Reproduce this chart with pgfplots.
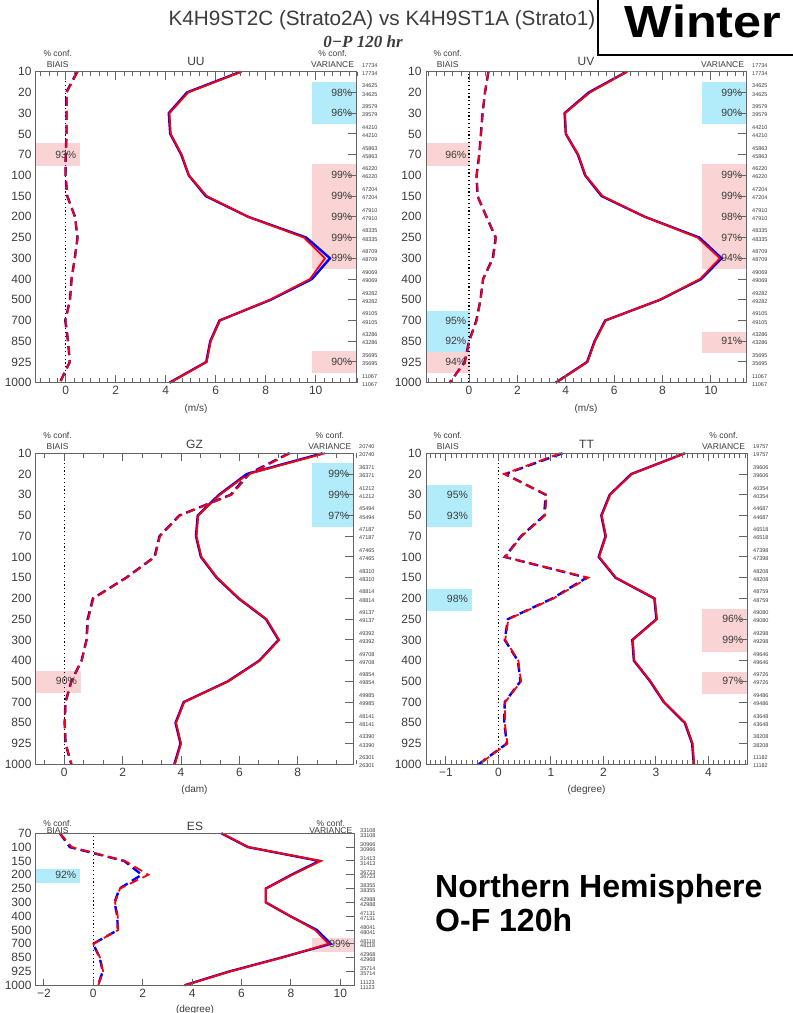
\documentclass[border=0pt]{standalone}
\usepackage{pgfplots}
\pgfplotsset{compat=1.18}
\usepackage{pgfplotstable}
\usepackage{fontspec}
\setmainfont{Liberation Sans}
\newfontfamily\titleserif{Liberation Serif}

\definecolor{pinkc}{RGB}{250,212,212}
\definecolor{cyanc}{RGB}{178,236,250}
\definecolor{axgray}{RGB}{100,100,100}
\definecolor{txtgray}{RGB}{60,60,60}

\pgfplotsset{
  panel/.style={
    scale only axis, anchor=south west, clip=false, axis on top,
    xtick pos=both,
    ytick pos=right, yticklabel pos=left,
    tick align=inside,
    major tick length=8pt, minor tick length=4.5pt,
    axis line style={axgray, line width=1pt},
    tick style={draw=none},
    ticklabel style={font=\fontsize{12}{12}\selectfont, text=txtgray},
    yticklabel style={xshift=-1pt},
  },
  stdb/.style={blue, line width=2.4pt},
  stdr/.style={red, line width=1.8pt},
  biasb/.style={blue, line width=2.4pt, dash pattern=on 9pt off 5pt},
  biasr/.style={red, line width=1.8pt, dash pattern=on 9pt off 5pt},
  zeroline/.style={black, line width=1.3pt, dash pattern=on 1.2pt off 2.6pt},
}
\tikzset{
  mtick/.style={axgray, line width=1pt},
  cntlab/.style={font=\fontsize{5.5}{5.5}\selectfont, text=txtgray, anchor=west, inner sep=0pt},
  pctlab/.style={font=\fontsize{10.5}{10.5}\selectfont, text=txtgray, anchor=east, inner sep=0pt},
  hsmall/.style={font=\fontsize{8.5}{8.5}\selectfont, text=txtgray, inner sep=0pt},
  htitle/.style={font=\fontsize{12}{12}\selectfont, text=txtgray, inner sep=0pt},
  hunit/.style={font=\fontsize{10}{10}\selectfont, text=txtgray, inner sep=0pt},
}
% levels are plotted downward: level index k sits at y = -k
% #1 xmax, #2 level index, #3 count
\newcommand{\cnt}[3]{%
  \node[cntlab] at (axis cs:#1,-#2) [xshift=6pt,yshift=6.5pt] {#3};
  \node[cntlab] at (axis cs:#1,-#2) [xshift=6pt,yshift=-1.7pt] {#3};}
\newcommand{\cnte}[3]{%
  \node[cntlab] at (axis cs:#1,-#2) [xshift=6pt,yshift=2.6pt] {#3};
  \node[cntlab] at (axis cs:#1,-#2) [xshift=6pt,yshift=-2.2pt] {#3};}
\newcommand{\pct}[3]{\node[pctlab] at (axis cs:#1,-#2) [xshift=-3.5pt] {#3\%};}
\newcommand{\shbox}[5]{\fill[#1] (axis cs:#2,-#4) rectangle (axis cs:#3,-#5);}
% #1 title, #2 offset high, #3 offset low, #4 title offset
\newcommand{\headers}[4]{%
  \node[hsmall] at (axis description cs:0.068,1) [yshift=#2] {\% conf.};
  \node[hsmall] at (axis description cs:0.068,1) [yshift=#3] {BIAIS};
  \node[htitle] at (axis description cs:0.5,1) [yshift=#4] {#1};
  \node[hsmall] at (axis description cs:0.927,1) [yshift=#2] {\% conf.};
  \node[hsmall] at (axis description cs:0.927,1) [yshift=#3] {VARIANCE};}

\begin{document}

% lev: level index ; vr/vb: variance-side (solid) red/blue ; br/bb: bias (dashed) red/blue
\pgfplotstableread{
lev vr vb br bb
0 7.04 7.00 0.48 0.46
1 4.90 4.85 0.04 0.02
2 4.15 4.12 0.04 0.03
3 4.20 4.18 0.04 0.03
4 4.64 4.62 0.00 0.00
5 4.93 4.92 0.00 -0.01
6 5.64 5.60 0.07 0.06
7 7.30 7.30 0.37 0.37
8 9.53 9.62 0.48 0.47
9 10.37 10.57 0.37 0.36
10 9.77 9.85 0.24 0.23
11 8.17 8.20 0.17 0.17
12 6.17 6.15 0.00 -0.02
13 5.80 5.78 0.10 0.09
14 5.64 5.62 0.17 0.16
15 4.17 4.15 -0.23 -0.24
}\uutab

\pgfplotstableread{
lev vr vb br bb
0 6.54 6.52 0.80 0.80
1 5.00 4.95 0.66 0.66
2 3.97 3.95 0.56 0.56
3 4.01 4.00 0.50 0.49
4 4.52 4.50 0.43 0.42
5 4.82 4.80 0.32 0.31
6 5.52 5.48 0.36 0.35
7 7.27 7.27 0.73 0.72
8 9.45 9.52 1.12 1.10
9 10.37 10.44 1.00 0.98
10 9.55 9.60 0.59 0.58
11 7.89 7.90 0.48 0.47
12 5.65 5.63 0.32 0.30
13 5.21 5.19 0.01 0.00
14 4.90 4.88 -0.17 -0.18
15 3.60 3.58 -0.79 -0.80
}\uvtab

\pgfplotstableread{
lev vr vb br bb
0 8.93 8.85 7.73 7.70
1 6.30 6.25 6.35 6.30
2 5.33 5.30 5.73 5.70
3 4.59 4.57 3.96 3.94
4 4.53 4.51 3.28 3.26
5 4.70 4.68 3.11 3.09
6 5.24 5.22 2.14 2.12
7 5.99 5.97 1.00 0.98
8 6.93 6.91 0.82 0.80
9 7.36 7.34 0.77 0.76
10 6.70 6.68 0.60 0.59
11 5.62 5.60 0.25 0.24
12 4.11 4.09 0.05 0.04
13 3.83 3.81 0.02 0.01
14 4.00 3.98 0.05 0.04
15 3.79 3.77 0.25 0.24
}\gztab

\pgfplotstableread{
lev vr vb br bb
0 3.56 3.55 1.18 1.22
1 2.54 2.53 0.11 0.13
2 2.13 2.12 0.92 0.90
3 1.97 1.96 0.89 0.87
4 2.05 2.04 0.44 0.43
5 1.92 1.91 0.13 0.12
6 2.24 2.23 1.71 1.68
7 2.98 2.97 1.05 1.03
8 3.02 3.01 0.19 0.18
9 2.56 2.55 0.13 0.12
10 2.59 2.58 0.38 0.37
11 2.90 2.89 0.43 0.42
12 3.16 3.15 0.13 0.12
13 3.56 3.55 0.12 0.11
14 3.70 3.69 0.17 0.16
15 3.73 3.72 -0.37 -0.38
}\tttab

\pgfplotstableread{
lev vr vb br bb
0 5.20 5.18 -1.35 -1.35
1 6.28 6.26 -0.87 -0.95
2 9.21 9.15 1.28 1.25
3 8.06 8.02 2.23 1.96
4 6.99 6.98 1.08 1.06
5 6.99 6.98 0.88 0.86
6 7.99 7.97 0.99 0.97
7 8.98 9.05 1.01 0.99
8 9.52 9.61 0.00 -0.01
9 7.63 7.60 0.27 0.26
10 5.53 5.50 0.40 0.38
11 3.71 3.69 0.20 0.19
}\estab

\begin{tikzpicture}
\useasboundingbox (0,0) rectangle (793pt,1013pt);

% ---------------- UU ----------------
\begin{axis}[panel, at={(36pt,630.3pt)}, width=320pt, height=311pt,
  xmin=-1.19, xmax=11.61, ymin=-15, ymax=0,
  ytick={-15,...,0}, yticklabels={1000,925,850,700,500,400,300,250,200,150,100,70,50,30,20,10},
  xtick={0,2,...,10}, xticklabels={0,2,4,6,8,10}]
\shbox{pinkc}{-1.19}{0.57}{3.46}{4.54}
\shbox{cyanc}{9.85}{11.61}{0.48}{2.52}
\shbox{pinkc}{9.85}{11.61}{4.46}{9.54}
\shbox{pinkc}{9.85}{11.61}{13.48}{14.52}
\addplot[zeroline] coordinates {(0,-15) (0,0)};
\addplot[stdb] table[x=vb,y expr=-\thisrow{lev}]{\uutab};
\addplot[stdr] table[x=vr,y expr=-\thisrow{lev}]{\uutab};
\addplot[biasb] table[x=bb,y expr=-\thisrow{lev}]{\uutab};
\addplot[biasr] table[x=br,y expr=-\thisrow{lev}]{\uutab};
\pct{0.57}{4}{93}
\pct{11.61}{1}{98}\pct{11.61}{2}{96}
\pct{11.61}{5}{99}\pct{11.61}{6}{99}\pct{11.61}{7}{99}\pct{11.61}{8}{99}\pct{11.61}{9}{99}
\pct{11.61}{14}{90}
\pgfplotsinvokeforeach{0,2,...,10}{\draw[mtick] (axis cs:#1,-15) -- ++(0pt,8pt); \draw[mtick] (axis cs:#1,0) -- ++(0pt,-8pt);}
\pgfplotsinvokeforeach{-1,-0.6667,...,11.5}{\draw[mtick] (axis cs:#1,-15) -- ++(0pt,4.5pt); \draw[mtick] (axis cs:#1,0) -- ++(0pt,-4.5pt);}
\pgfplotsinvokeforeach{0,...,15}{\draw[mtick] (axis cs:11.61,-#1) -- ++(-8pt,0pt);}
\cnt{11.61}{0}{17734}\cnt{11.61}{1}{34625}\cnt{11.61}{2}{39579}\cnt{11.61}{3}{44210}
\cnt{11.61}{4}{45863}\cnt{11.61}{5}{46220}\cnt{11.61}{6}{47204}\cnt{11.61}{7}{47910}
\cnt{11.61}{8}{48335}\cnt{11.61}{9}{48709}\cnt{11.61}{10}{49069}\cnt{11.61}{11}{49282}
\cnt{11.61}{12}{49105}\cnt{11.61}{13}{43286}\cnt{11.61}{14}{35695}\cnt{11.61}{15}{11067}
\headers{UU}{18.5pt}{7.5pt}{10pt}
\node[hunit] at (axis description cs:0.5,0) [yshift=-26pt] {(m/s)};
\end{axis}

% ---------------- UV ----------------
\begin{axis}[panel, at={(426pt,630.3pt)}, width=320pt, height=311pt,
  xmin=-1.78, xmax=11.45, ymin=-15, ymax=0,
  ytick={-15,...,0}, yticklabels={1000,925,850,700,500,400,300,250,200,150,100,70,50,30,20,10},
  xtick={0,2,...,10}, xticklabels={0,2,4,6,8,10}]
\shbox{pinkc}{-1.78}{0.04}{3.46}{4.54}
\shbox{cyanc}{9.63}{11.45}{0.48}{2.52}
\shbox{pinkc}{9.63}{11.45}{4.46}{9.54}
\shbox{cyanc}{-1.78}{0.04}{11.54}{13.5}
\shbox{pinkc}{-1.78}{0.04}{13.5}{14.55}
\shbox{pinkc}{9.63}{11.45}{12.57}{13.58}
\addplot[zeroline] coordinates {(0,-15) (0,0)};
\addplot[stdb] table[x=vb,y expr=-\thisrow{lev}]{\uvtab};
\addplot[stdr] table[x=vr,y expr=-\thisrow{lev}]{\uvtab};
\addplot[biasb] table[x=bb,y expr=-\thisrow{lev}]{\uvtab};
\addplot[biasr] table[x=br,y expr=-\thisrow{lev}]{\uvtab};
\pct{0.04}{4}{96}\pct{0.04}{12}{95}\pct{0.04}{13}{92}\pct{0.04}{14}{94}
\pct{11.45}{1}{99}\pct{11.45}{2}{90}
\pct{11.45}{5}{99}\pct{11.45}{6}{99}\pct{11.45}{7}{98}\pct{11.45}{8}{97}\pct{11.45}{9}{94}
\pct{11.45}{13}{91}
\pgfplotsinvokeforeach{0,2,...,10}{\draw[mtick] (axis cs:#1,-15) -- ++(0pt,8pt); \draw[mtick] (axis cs:#1,0) -- ++(0pt,-8pt);}
\pgfplotsinvokeforeach{-1.6667,-1.3333,...,11.4}{\draw[mtick] (axis cs:#1,-15) -- ++(0pt,4.5pt); \draw[mtick] (axis cs:#1,0) -- ++(0pt,-4.5pt);}
\pgfplotsinvokeforeach{0,...,15}{\draw[mtick] (axis cs:11.45,-#1) -- ++(-8pt,0pt);}
\cnt{11.45}{0}{17734}\cnt{11.45}{1}{34625}\cnt{11.45}{2}{39579}\cnt{11.45}{3}{44210}
\cnt{11.45}{4}{45863}\cnt{11.45}{5}{46220}\cnt{11.45}{6}{47204}\cnt{11.45}{7}{47910}
\cnt{11.45}{8}{48335}\cnt{11.45}{9}{48709}\cnt{11.45}{10}{49069}\cnt{11.45}{11}{49282}
\cnt{11.45}{12}{49105}\cnt{11.45}{13}{43286}\cnt{11.45}{14}{35695}\cnt{11.45}{15}{11067}
\headers{UV}{18.5pt}{7.5pt}{10pt}
\node[hunit] at (axis description cs:0.5,0) [yshift=-26pt] {(m/s)};
\end{axis}

% ---------------- GZ ----------------
\begin{axis}[panel, at={(36pt,248.7pt)}, width=317pt, height=311pt,
  xmin=-0.97, xmax=9.89, ymin=-15, ymax=0,
  ytick={-15,...,0}, yticklabels={1000,925,850,700,500,400,300,250,200,150,100,70,50,30,20,10},
  xtick={0,2,...,8}, xticklabels={0,2,4,6,8}]
\shbox{cyanc}{8.47}{9.89}{0.48}{3.54}
\shbox{pinkc}{-0.97}{0.56}{10.48}{11.55}
\addplot[zeroline] coordinates {(0,-15) (0,0)};
\addplot[stdb] table[x=vb,y expr=-\thisrow{lev}]{\gztab};
\addplot[stdr] table[x=vr,y expr=-\thisrow{lev}]{\gztab};
\addplot[biasb] table[x=bb,y expr=-\thisrow{lev}]{\gztab};
\addplot[biasr] table[x=br,y expr=-\thisrow{lev}]{\gztab};
\pct{0.56}{11}{90}
\pct{9.89}{1}{99}\pct{9.89}{2}{99}\pct{9.89}{3}{97}
\pgfplotsinvokeforeach{0,2,...,8}{\draw[mtick] (axis cs:#1,-15) -- ++(0pt,8pt); \draw[mtick] (axis cs:#1,0) -- ++(0pt,-8pt);}
\pgfplotsinvokeforeach{-0.6667,0,...,9.8}{\draw[mtick] (axis cs:#1,-15) -- ++(0pt,4.5pt); \draw[mtick] (axis cs:#1,0) -- ++(0pt,-4.5pt);}
\pgfplotsinvokeforeach{0,...,15}{\draw[mtick] (axis cs:9.89,-#1) -- ++(-8pt,0pt);}
\cnt{9.89}{0}{20740}\cnt{9.89}{1}{36371}\cnt{9.89}{2}{41212}\cnt{9.89}{3}{45494}
\cnt{9.89}{4}{47187}\cnt{9.89}{5}{47465}\cnt{9.89}{6}{48310}\cnt{9.89}{7}{48814}
\cnt{9.89}{8}{49137}\cnt{9.89}{9}{49392}\cnt{9.89}{10}{49708}\cnt{9.89}{11}{49854}
\cnt{9.89}{12}{49985}\cnt{9.89}{13}{48141}\cnt{9.89}{14}{43390}\cnt{9.89}{15}{26301}
\headers{GZ}{18pt}{6.5pt}{9pt}
\node[hunit] at (axis description cs:0.5,0) [yshift=-26pt] {(dam)};
\end{axis}

% ---------------- TT ----------------
\begin{axis}[panel, at={(426pt,248.7pt)}, width=321pt, height=311pt,
  xmin=-1.38, xmax=4.735, ymin=-15, ymax=0,
  ytick={-15,...,0}, yticklabels={1000,925,850,700,500,400,300,250,200,150,100,70,50,30,20,10},
  xtick={-1,0,...,4}, xticklabels={−1,0,1,2,3,4}]
\shbox{cyanc}{-1.38}{-0.51}{1.53}{3.54}
\shbox{cyanc}{-1.38}{-0.51}{6.56}{7.59}
\shbox{pinkc}{3.87}{4.735}{7.53}{9.57}
\shbox{pinkc}{3.87}{4.735}{10.54}{11.6}
\addplot[zeroline] coordinates {(0,-15) (0,0)};
\addplot[stdb] table[x=vb,y expr=-\thisrow{lev}]{\tttab};
\addplot[stdr] table[x=vr,y expr=-\thisrow{lev}]{\tttab};
\addplot[biasb] table[x=bb,y expr=-\thisrow{lev}]{\tttab};
\addplot[biasr] table[x=br,y expr=-\thisrow{lev}]{\tttab};
\pct{-0.51}{2}{95}\pct{-0.51}{3}{93}\pct{-0.51}{7}{98}
\pct{4.735}{8}{96}\pct{4.735}{9}{99}\pct{4.735}{11}{97}
\pgfplotsinvokeforeach{-1,0,...,4}{\draw[mtick] (axis cs:#1,-15) -- ++(0pt,8pt); \draw[mtick] (axis cs:#1,0) -- ++(0pt,-8pt);}
\pgfplotsinvokeforeach{-1.3,-1.2,...,4.7}{\draw[mtick] (axis cs:#1,-15) -- ++(0pt,4.5pt); \draw[mtick] (axis cs:#1,0) -- ++(0pt,-4.5pt);}
\pgfplotsinvokeforeach{0,...,15}{\draw[mtick] (axis cs:4.735,-#1) -- ++(-8pt,0pt);}
\cnt{4.735}{0}{19757}\cnt{4.735}{1}{39606}\cnt{4.735}{2}{40354}\cnt{4.735}{3}{44687}
\cnt{4.735}{4}{46518}\cnt{4.735}{5}{47398}\cnt{4.735}{6}{48208}\cnt{4.735}{7}{48759}
\cnt{4.735}{8}{49080}\cnt{4.735}{9}{49298}\cnt{4.735}{10}{49646}\cnt{4.735}{11}{49726}
\cnt{4.735}{12}{49486}\cnt{4.735}{13}{43648}\cnt{4.735}{14}{38208}\cnt{4.735}{15}{11182}
\headers{TT}{18pt}{6.5pt}{9pt}
\node[hunit] at (axis description cs:0.5,0) [yshift=-26pt] {(degree)};
\end{axis}

% ---------------- ES ----------------
\begin{axis}[panel, at={(36pt,27.7pt)}, width=318pt, height=152pt,
  xmin=-2.32, xmax=10.55, ymin=-11, ymax=0,
  ytick={-11,...,0}, yticklabels={1000,925,850,700,500,400,300,250,200,150,100,70},
  xtick={-2,0,...,10}, xticklabels={−2,0,2,4,6,8,10}]
\shbox{cyanc}{-2.32}{-0.54}{2.6}{3.62}
\shbox{pinkc}{8.84}{10.55}{7.55}{8.59}
\addplot[zeroline] coordinates {(0,-11) (0,0)};
\addplot[stdb] table[x=vb,y expr=-\thisrow{lev}]{\estab};
\addplot[stdr] table[x=vr,y expr=-\thisrow{lev}]{\estab};
\addplot[biasb] table[x=bb,y expr=-\thisrow{lev}]{\estab};
\addplot[biasr] table[x=br,y expr=-\thisrow{lev}]{\estab};
\pct{-0.54}{3}{92}
\pct{10.55}{8}{99}
\pgfplotsinvokeforeach{-2,0,...,10}{\draw[mtick] (axis cs:#1,-11) -- ++(0pt,6pt);}
\pgfplotsinvokeforeach{0,...,11}{\draw[mtick] (axis cs:10.55,-#1) -- ++(-8pt,0pt);}
\cnte{10.55}{0}{33108}\cnte{10.55}{1}{30966}\cnte{10.55}{2}{31413}\cnte{10.55}{3}{36723}
\cnte{10.55}{4}{38355}\cnte{10.55}{5}{42988}\cnte{10.55}{6}{47131}\cnte{10.55}{7}{48041}
\cnte{10.55}{8}{48118}\cnte{10.55}{9}{42968}\cnte{10.55}{10}{35714}\cnte{10.55}{11}{11123}
\headers{ES}{10pt}{3pt}{7pt}
\node[hunit] at (axis description cs:0.5,0) [yshift=-25pt] {(degree)};
\end{axis}

% ---------------- titles ----------------
\node[font=\fontsize{20.7}{20.7}\selectfont, text=txtgray] at (382pt,993pt) {K4H9ST2C (Strato2A) vs K4H9ST1A (Strato1)};
\node[font=\titleserif\itshape\bfseries\fontsize{17}{17}\selectfont, text=txtgray] at (363pt,971pt) {0−P 120 hr};
\fill[white] (597.7pt,958pt) rectangle (800pt,1020pt);
\draw[black, line width=2pt] (597.7pt,1015pt) -- (597.7pt,958pt) -- (800pt,958pt);
\node[font=\bfseries\fontsize{45}{45}\selectfont, anchor=base, xscale=1.12] at (703pt,975pt) {Winter};
\node[font=\bfseries\fontsize{32}{32}\selectfont, anchor=base west, inner sep=0pt] at (435pt,115pt) {Northern Hemisphere};
\node[font=\bfseries\fontsize{32}{32}\selectfont, anchor=base west, inner sep=0pt] at (435pt,81pt) {O-F 120h};
\end{tikzpicture}
\end{document}
